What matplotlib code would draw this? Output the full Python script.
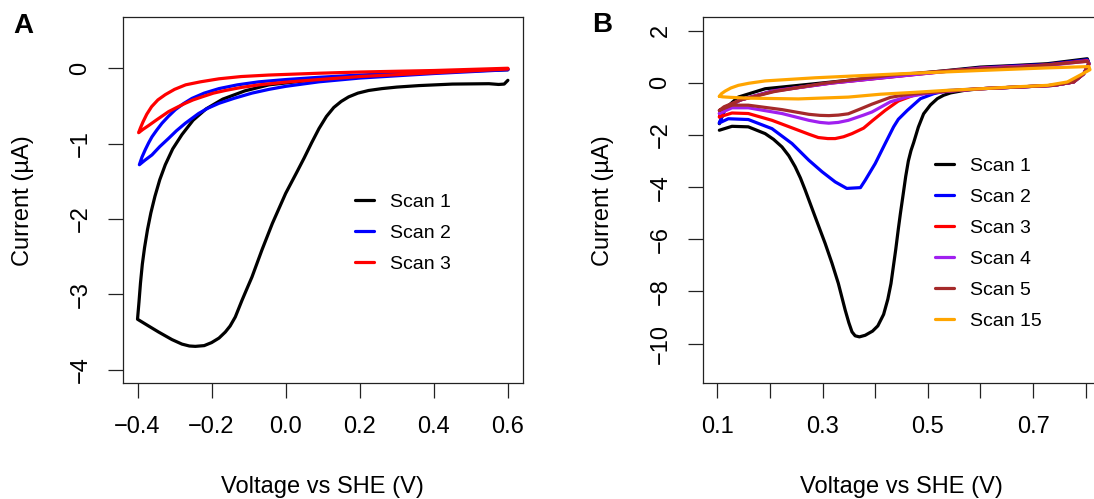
import matplotlib
matplotlib.use("Agg")
import matplotlib.pyplot as plt

plt.rcParams['font.family'] = ['Liberation Sans', 'DejaVu Sans']

# ---------------- Panel A data (Voltage vs SHE [V], Current [uA]) ----------------
a_scan1_v = [0.600, 0.590, 0.575, 0.549, 0.45, 0.36, 0.30, 0.26, 0.224, 0.195, 0.17, 0.15, 0.13,
             0.11, 0.09, 0.07, 0.05, 0.03, 0.0, -0.036, -0.064, -0.091, -0.105, -0.118, -0.136,
             -0.15, -0.163, -0.18, -0.2, -0.22, -0.244, -0.26, -0.28, -0.307, -0.343, -0.37, -0.400,
             -0.396, -0.392, -0.387, -0.381, -0.373, -0.364, -0.353, -0.340, -0.325, -0.305, -0.28,
             -0.25, -0.215, -0.17, -0.11, -0.045, 0.09, 0.2, 0.3, 0.4, 0.5, 0.6]
a_scan1_i = [-0.16, -0.21, -0.215, -0.205, -0.21, -0.23, -0.25, -0.27, -0.295, -0.33, -0.38, -0.44, -0.52,
             -0.64, -0.80, -0.99, -1.19, -1.38, -1.66, -2.06, -2.41, -2.77, -2.93, -3.08, -3.30,
             -3.42, -3.50, -3.58, -3.64, -3.68, -3.69, -3.685, -3.66, -3.60, -3.50, -3.42, -3.33,
             -3.10, -2.85, -2.60, -2.38, -2.14, -1.92, -1.70, -1.48, -1.28, -1.07, -0.88,
             -0.69, -0.54, -0.41, -0.30, -0.22, -0.146, -0.10, -0.075, -0.055, -0.035, -0.02]

a_scan2_v = [0.6, 0.5, 0.4, 0.3, 0.2, 0.09, 0.0, -0.072, -0.13, -0.18, -0.22, -0.253, -0.276, -0.298,
             -0.317, -0.334, -0.348, -0.361, -0.37, -0.379, -0.388, -0.395,
             -0.38, -0.361, -0.34, -0.316, -0.295, -0.271, -0.235, -0.21, -0.18, -0.14, -0.091,
             -0.045, 0.0, 0.09, 0.2, 0.3, 0.4, 0.5, 0.6]
a_scan2_i = [-0.01, -0.03, -0.05, -0.07, -0.09, -0.12, -0.15, -0.18, -0.22, -0.27, -0.33, -0.40, -0.47, -0.55,
             -0.64, -0.73, -0.82, -0.91, -0.99, -1.08, -1.18, -1.28,
             -1.22, -1.15, -1.04, -0.93, -0.83, -0.73, -0.60, -0.53, -0.465, -0.40, -0.33,
             -0.28, -0.24, -0.18, -0.13, -0.10, -0.07, -0.045, -0.02]

a_scan3_v = [0.6, 0.5, 0.4, 0.3, 0.2, 0.09, -0.045, -0.12, -0.18, -0.23, -0.27, -0.3, -0.325, -0.345,
             -0.362, -0.375, -0.385, -0.392, -0.397,
             -0.385, -0.37, -0.35, -0.316, -0.29, -0.271, -0.25, -0.226, -0.195, -0.163, -0.12,
             -0.072, 0.0, 0.09, 0.2, 0.3, 0.4, 0.5, 0.6]
a_scan3_i = [0.0, -0.015, -0.03, -0.04, -0.05, -0.066, -0.09, -0.11, -0.14, -0.18, -0.22, -0.28, -0.35, -0.42,
             -0.51, -0.61, -0.71, -0.79, -0.855,
             -0.81, -0.76, -0.69, -0.575, -0.51, -0.465, -0.42, -0.38, -0.33, -0.295, -0.255,
             -0.22, -0.185, -0.15, -0.11, -0.085, -0.06, -0.035, -0.01]

a_labels = ["Scan 1", "Scan 2", "Scan 3"]
a_colors = ["#000000", "#0000FF", "#FF0000"]

# ---------------- Panel B data ----------------
b_scan1_v = [0.104, 0.128, 0.159, 0.191, 0.207, 0.223, 0.236, 0.248, 0.258, 0.267, 0.286, 0.305, 0.318,
             0.330, 0.343, 0.350, 0.356, 0.362, 0.370, 0.381, 0.395, 0.405, 0.416, 0.424, 0.430, 0.439,
             0.444, 0.448, 0.453, 0.458, 0.463, 0.468, 0.473, 0.482, 0.492, 0.505, 0.518, 0.53, 0.543,
             0.57, 0.6, 0.676, 0.739, 0.777, 0.796, 0.806, 0.803,
             0.727, 0.663, 0.6, 0.537, 0.473, 0.41, 0.318, 0.191, 0.140, 0.115, 0.104]
b_scan1_i = [-1.82, -1.67, -1.69, -1.95, -2.17, -2.46, -2.80, -3.22, -3.65, -4.11, -5.14, -6.16, -6.92,
             -7.69, -8.71, -9.2, -9.55, -9.70, -9.74, -9.68, -9.52, -9.32, -8.88, -8.3, -7.7, -6.40,
             -5.6, -5.0, -4.3, -3.59, -3.0, -2.6, -2.30, -1.70, -1.19, -0.85, -0.61, -0.48, -0.39,
             -0.29, -0.23, -0.16, -0.10, 0.03, 0.34, 0.73, 0.92,
             0.73, 0.66, 0.60, 0.47, 0.34, 0.22, 0.03, -0.23, -0.55, -0.99, -1.57]

b_scan2_v = [0.104, 0.121, 0.159, 0.204, 0.242, 0.274, 0.299, 0.324, 0.346, 0.372, 0.381, 0.400,
             0.419, 0.435, 0.444, 0.461, 0.486, 0.511, 0.537, 0.6, 0.676, 0.739, 0.777, 0.796, 0.806, 0.803,
             0.727, 0.663, 0.6, 0.537, 0.473, 0.41, 0.318, 0.208, 0.144, 0.115, 0.104]
b_scan2_i = [-1.54, -1.38, -1.41, -1.76, -2.33, -2.97, -3.41, -3.80, -4.05, -4.02, -3.74, -3.10,
             -2.33, -1.69, -1.40, -1.06, -0.61, -0.42, -0.30, -0.23, -0.16, -0.10, 0.03, 0.34, 0.75, 0.88,
             0.70, 0.64, 0.57, 0.45, 0.32, 0.19, 0.0, -0.30, -0.66, -1.0, -1.54]

b_scan3_v = [0.104, 0.128, 0.159, 0.204, 0.254, 0.275, 0.292, 0.31, 0.324, 0.34, 0.356, 0.378, 0.395,
             0.419, 0.444, 0.473, 0.5, 0.55, 0.6, 0.676, 0.739, 0.777, 0.796, 0.806, 0.803,
             0.727, 0.663, 0.6, 0.537, 0.473, 0.41, 0.318, 0.208, 0.144, 0.115, 0.104]
b_scan3_i = [-1.31, -1.16, -1.18, -1.44, -1.82, -1.98, -2.10, -2.14, -2.14, -2.07, -1.95, -1.74, -1.45,
             -1.06, -0.70, -0.48, -0.38, -0.30, -0.23, -0.16, -0.10, 0.03, 0.34, 0.72, 0.85,
             0.68, 0.62, 0.56, 0.44, 0.31, 0.18, -0.01, -0.31, -0.66, -0.95, -1.31]

b_scan4_v = [0.104, 0.128, 0.159, 0.223, 0.274, 0.295, 0.312, 0.33, 0.349, 0.378, 0.394, 0.429, 0.461,
             0.5, 0.55, 0.6, 0.676, 0.739, 0.777, 0.796, 0.806, 0.803,
             0.727, 0.663, 0.6, 0.537, 0.473, 0.41, 0.318, 0.208, 0.144, 0.115, 0.104]
b_scan4_i = [-1.18, -0.96, -0.96, -1.18, -1.44, -1.52, -1.55, -1.52, -1.44, -1.24, -1.12, -0.73, -0.54,
             -0.40, -0.31, -0.23, -0.16, -0.10, 0.03, 0.34, 0.71, 0.83,
             0.66, 0.61, 0.55, 0.44, 0.31, 0.18, -0.01, -0.32, -0.66, -0.93, -1.18]

b_scan5_v = [0.104, 0.128, 0.159, 0.223, 0.274, 0.295, 0.312, 0.33, 0.349, 0.370, 0.394, 0.429, 0.461,
             0.5, 0.55, 0.6, 0.676, 0.739, 0.777, 0.796, 0.806, 0.803,
             0.682, 0.556, 0.429, 0.303, 0.208, 0.144, 0.113, 0.104]
b_scan5_i = [-1.06, -0.86, -0.86, -1.03, -1.21, -1.25, -1.26, -1.24, -1.19, -1.02, -0.82, -0.56, -0.45,
             -0.38, -0.30, -0.23, -0.16, -0.10, 0.03, 0.34, 0.70, 0.82,
             0.61, 0.49, 0.29, -0.02, -0.34, -0.66, -0.92, -1.06]

b_scan15_v = [0.104, 0.108, 0.115, 0.126, 0.140, 0.16, 0.191, 0.286, 0.444, 0.6, 0.727, 0.806, 0.808,
              0.79, 0.765, 0.727, 0.663, 0.6, 0.537, 0.473, 0.41, 0.349, 0.254, 0.159, 0.125, 0.11, 0.104]
b_scan15_i = [-0.52, -0.42, -0.32, -0.20, -0.10, -0.02, 0.07, 0.19, 0.34, 0.47, 0.57, 0.62, 0.50,
              0.30, 0.03, -0.10, -0.16, -0.23, -0.29, -0.37, -0.44, -0.55, -0.62, -0.59, -0.56, -0.54, -0.52]

b_labels = ["Scan 1", "Scan 2", "Scan 3", "Scan 4", "Scan 5", "Scan 15"]
b_colors = ["#000000", "#0000FF", "#FF0000", "#A020F0", "#A52A2A", "#FFA500"]

a_xticks = [-0.4, -0.2, 0.0, 0.2, 0.4, 0.6]
a_xticklabels = ["\u22120.4", "\u22120.2", "0.0", "0.2", "0.4", "0.6"]
a_yticks = [-4, -3, -2, -1, 0]
a_yticklabels = ["\u22124", "\u22123", "\u22122", "\u22121", "0"]
b_xticks = [0.1, 0.2, 0.3, 0.4, 0.5, 0.6, 0.7, 0.8]
b_xticklabels = ["0.1", "", "0.3", "", "0.5", "", "0.7", ""]
b_yticks = [-10, -8, -6, -4, -2, 0, 2]
b_yticklabels = ["\u221210", "\u22128", "\u22126", "\u22124", "\u22122", "0", "2"]

W, H = 1094, 499
fig = plt.figure(figsize=(W / 100, H / 100), dpi=100)

def px_axes(left, right, top, bottom):
    return fig.add_axes([left / W, 1 - bottom / H, (right - left) / W, (bottom - top) / H])

axA = px_axes(122.7, 522.7, 17, 383.3)
axB = px_axes(702.5, 1100.5, 17, 383.3)

LW = 2.3
for v, i, c, l in zip([a_scan1_v, a_scan2_v, a_scan3_v], [a_scan1_i, a_scan2_i, a_scan3_i], a_colors, a_labels):
    axA.plot(v, i, color=c, lw=LW, label=l, solid_joinstyle='round', solid_capstyle='round')

for v, i, c, l in zip([b_scan1_v, b_scan2_v, b_scan3_v, b_scan4_v, b_scan5_v, b_scan15_v],
                      [b_scan1_i, b_scan2_i, b_scan3_i, b_scan4_i, b_scan5_i, b_scan15_i], b_colors, b_labels):
    axB.plot(v, i, color=c, lw=LW, label=l, solid_joinstyle='round', solid_capstyle='round')

def style(ax, xlim, ylim, xt, xtl, yt, ytl):
    ax.set_xlim(*xlim)
    ax.set_ylim(*ylim)
    ax.set_xticks(xt)
    ax.set_xticklabels(xtl)
    ax.set_yticks(yt)
    ax.set_yticklabels(ytl)
    for s in ax.spines.values():
        s.set_linewidth(0.9)
        s.set_color('#222222')
    ax.tick_params(axis='both', direction='out', length=10.8, width=0.9, color='#222222',
                   labelsize=17)
    ax.tick_params(axis='x', pad=20.5)
    ax.tick_params(axis='y', pad=19.5)
    for t in ax.get_xticklabels():
        t.set_va('center')
    for t in ax.get_yticklabels():
        t.set_rotation(90)
        t.set_ha('center')
        t.set_va('center')
    ax.set_xlabel("Voltage vs SHE (V)", fontsize=17, va='center')
    ax.xaxis.set_label_coords(0.5, -0.283)
    ax.set_ylabel("Current (\u00b5A)", fontsize=17, va='center')
    ax.yaxis.set_label_coords(-0.25, 0.5)

style(axA, (-0.44, 0.64), (-4.18, 0.68), a_xticks, a_xticklabels, a_yticks, a_yticklabels)
style(axB, (0.072, 0.828), (-11.52, 2.52), b_xticks, b_xticklabels, b_yticks, b_yticklabels)

leg_kw = dict(loc='upper left', frameon=False, fontsize=14, handlelength=0.98,
              handletextpad=0.82, labelspacing=0.69, borderpad=0, borderaxespad=0)
axA.legend(bbox_to_anchor=(0.581, 0.519), **leg_kw)
axB.legend(bbox_to_anchor=(0.584, 0.618), **leg_kw)

fig.text(23 / W, 1 - 26 / H, "A", fontsize=20, fontweight='bold', ha='center', va='center')
fig.text(602 / W, 1 - 25 / H, "B", fontsize=20, fontweight='bold', ha='center', va='center')

fig.savefig("out.png", dpi=100)
